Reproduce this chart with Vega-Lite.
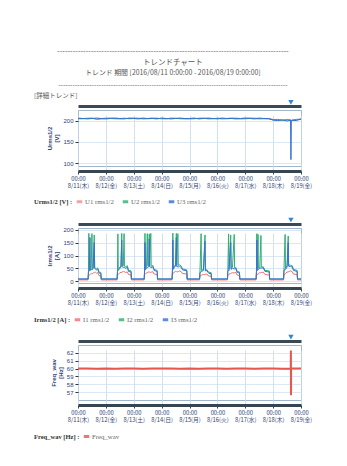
{
  "$schema": "https://vega.github.io/schema/vega-lite/v6.json",
  "background": "white",
  "padding": {"left": 33, "top": 47, "right": 4, "bottom": 4},
  "title": {
    "text": ["-----------------------------------------------------------------------------------------", "トレンドチャート"],
    "subtitle": ["トレンド 期間 [2016/08/11 0:00:00 - 2016/08/19 0:00:00]", "------------------------------------------------------------------------------------------------"],
    "anchor": "middle",
    "font": "Noto Sans CJK JP",
    "fontSize": 7.5,
    "fontWeight": "normal",
    "color": "#555555",
    "lineHeight": 11,
    "subtitleFont": "Noto Sans CJK JP",
    "subtitleFontSize": 6.9,
    "subtitleColor": "#555555",
    "subtitleLineHeight": 12,
    "subtitlePadding": 4,
    "offset": 4
  },
  "bounds": "flush",
  "spacing": 62,
  "resolve": {"scale": {"color": "independent"}, "legend": {"color": "independent"}},
  "datasets": {
    "volt": [
      {"t": "2016-08-11T00:00", "U1": 205, "U2": 204, "U3": 206},
      {"t": "2016-08-11T04:00", "U1": 204, "U2": 205, "U3": 205},
      {"t": "2016-08-11T08:00", "U1": 206, "U2": 205, "U3": 204},
      {"t": "2016-08-11T12:00", "U1": 205, "U2": 206, "U3": 205},
      {"t": "2016-08-11T16:00", "U1": 204, "U2": 203, "U3": 206},
      {"t": "2016-08-11T20:00", "U1": 205, "U2": 204, "U3": 205},
      {"t": "2016-08-12T00:00", "U1": 206, "U2": 205, "U3": 204},
      {"t": "2016-08-12T04:00", "U1": 205, "U2": 206, "U3": 205},
      {"t": "2016-08-12T08:00", "U1": 204, "U2": 205, "U3": 206},
      {"t": "2016-08-12T12:00", "U1": 205, "U2": 204, "U3": 205},
      {"t": "2016-08-12T16:00", "U1": 206, "U2": 205, "U3": 204},
      {"t": "2016-08-12T20:00", "U1": 204, "U2": 205, "U3": 206},
      {"t": "2016-08-13T00:00", "U1": 205, "U2": 206, "U3": 205},
      {"t": "2016-08-13T04:00", "U1": 206, "U2": 205, "U3": 204},
      {"t": "2016-08-13T08:00", "U1": 205, "U2": 204, "U3": 206},
      {"t": "2016-08-13T12:00", "U1": 204, "U2": 205, "U3": 205},
      {"t": "2016-08-13T16:00", "U1": 205, "U2": 206, "U3": 205},
      {"t": "2016-08-13T20:00", "U1": 206, "U2": 205, "U3": 204},
      {"t": "2016-08-14T00:00", "U1": 204, "U2": 205, "U3": 206},
      {"t": "2016-08-14T04:00", "U1": 205, "U2": 204, "U3": 205},
      {"t": "2016-08-14T08:00", "U1": 205, "U2": 206, "U3": 204},
      {"t": "2016-08-14T12:00", "U1": 206, "U2": 205, "U3": 205},
      {"t": "2016-08-14T16:00", "U1": 204, "U2": 205, "U3": 206},
      {"t": "2016-08-14T20:00", "U1": 205, "U2": 204, "U3": 205},
      {"t": "2016-08-15T00:00", "U1": 205, "U2": 204, "U3": 205},
      {"t": "2016-08-15T04:00", "U1": 204, "U2": 205, "U3": 206},
      {"t": "2016-08-15T08:00", "U1": 206, "U2": 205, "U3": 204},
      {"t": "2016-08-15T12:00", "U1": 205, "U2": 206, "U3": 205},
      {"t": "2016-08-15T16:00", "U1": 205, "U2": 204, "U3": 206},
      {"t": "2016-08-15T20:00", "U1": 204, "U2": 205, "U3": 205},
      {"t": "2016-08-16T00:00", "U1": 206, "U2": 205, "U3": 204},
      {"t": "2016-08-16T04:00", "U1": 205, "U2": 204, "U3": 206},
      {"t": "2016-08-16T08:00", "U1": 204, "U2": 205, "U3": 205},
      {"t": "2016-08-16T12:00", "U1": 205, "U2": 206, "U3": 205},
      {"t": "2016-08-16T16:00", "U1": 206, "U2": 205, "U3": 204},
      {"t": "2016-08-16T20:00", "U1": 205, "U2": 204, "U3": 205},
      {"t": "2016-08-17T00:00", "U1": 204, "U2": 205, "U3": 206},
      {"t": "2016-08-17T04:00", "U1": 205, "U2": 206, "U3": 205},
      {"t": "2016-08-17T08:00", "U1": 206, "U2": 205, "U3": 204},
      {"t": "2016-08-17T12:00", "U1": 205, "U2": 204, "U3": 206},
      {"t": "2016-08-17T16:00", "U1": 204, "U2": 205, "U3": 205},
      {"t": "2016-08-17T20:00", "U1": 205, "U2": 204, "U3": 205},
      {"t": "2016-08-18T00:00", "U1": 203, "U2": 202, "U3": 201},
      {"t": "2016-08-18T04:00", "U1": 202, "U2": 203, "U3": 200},
      {"t": "2016-08-18T08:00", "U1": 201, "U2": 200, "U3": 202},
      {"t": "2016-08-18T12:00", "U1": 203, "U2": 202, "U3": 199},
      {"t": "2016-08-18T15:00", "U1": 202, "U2": 201, "U3": 201},
      {"t": "2016-08-18T15:20", "U1": 200, "U2": 199, "U3": 108},
      {"t": "2016-08-18T15:40", "U1": 201, "U2": 200, "U3": 200},
      {"t": "2016-08-18T16:00", "U1": 200, "U2": 201, "U3": 201},
      {"t": "2016-08-18T20:00", "U1": 202, "U2": 203, "U3": 200},
      {"t": "2016-08-19T00:00", "U1": 204, "U2": 203, "U3": 204}
    ],
    "curr": [
      {"t": "2016-08-11T00:00", "I1": 5, "I2": 8, "I3": 9},
      {"t": "2016-08-11T08:40", "I1": 5, "I2": 8, "I3": 9},
      {"t": "2016-08-11T09:00", "I1": 20, "I2": 38, "I3": 34},
      {"t": "2016-08-11T09:20", "I1": 22, "I2": 186, "I3": 40},
      {"t": "2016-08-11T09:40", "I1": 24, "I2": 42, "I3": 40},
      {"t": "2016-08-11T10:20", "I1": 26, "I2": 46, "I3": 170},
      {"t": "2016-08-11T10:40", "I1": 27, "I2": 45, "I3": 42},
      {"t": "2016-08-11T11:20", "I1": 30, "I2": 50, "I3": 46},
      {"t": "2016-08-11T12:00", "I1": 28, "I2": 185, "I3": 44},
      {"t": "2016-08-11T12:20", "I1": 29, "I2": 48, "I3": 45},
      {"t": "2016-08-11T13:00", "I1": 32, "I2": 52, "I3": 48},
      {"t": "2016-08-11T14:00", "I1": 34, "I2": 180, "I3": 150},
      {"t": "2016-08-11T14:20", "I1": 33, "I2": 54, "I3": 50},
      {"t": "2016-08-11T15:00", "I1": 35, "I2": 50, "I3": 47},
      {"t": "2016-08-11T16:00", "I1": 31, "I2": 48, "I3": 44},
      {"t": "2016-08-11T17:00", "I1": 33, "I2": 52, "I3": 47},
      {"t": "2016-08-11T18:00", "I1": 22, "I2": 36, "I3": 32},
      {"t": "2016-08-11T19:40", "I1": 20, "I2": 34, "I3": 30},
      {"t": "2016-08-11T20:00", "I1": 5, "I2": 8, "I3": 9},
      {"t": "2016-08-12T09:40", "I1": 5, "I2": 8, "I3": 9},
      {"t": "2016-08-12T10:00", "I1": 24, "I2": 42, "I3": 38},
      {"t": "2016-08-12T10:20", "I1": 25, "I2": 184, "I3": 44},
      {"t": "2016-08-12T10:40", "I1": 27, "I2": 46, "I3": 42},
      {"t": "2016-08-12T12:00", "I1": 32, "I2": 55, "I3": 50},
      {"t": "2016-08-12T13:00", "I1": 35, "I2": 58, "I3": 54},
      {"t": "2016-08-12T13:40", "I1": 34, "I2": 186, "I3": 160},
      {"t": "2016-08-12T14:00", "I1": 36, "I2": 62, "I3": 56},
      {"t": "2016-08-12T15:00", "I1": 38, "I2": 60, "I3": 55},
      {"t": "2016-08-12T15:40", "I1": 36, "I2": 185, "I3": 52},
      {"t": "2016-08-12T16:00", "I1": 37, "I2": 58, "I3": 53},
      {"t": "2016-08-12T17:00", "I1": 34, "I2": 56, "I3": 50},
      {"t": "2016-08-12T18:30", "I1": 36, "I2": 60, "I3": 54},
      {"t": "2016-08-12T19:30", "I1": 26, "I2": 42, "I3": 38},
      {"t": "2016-08-12T21:40", "I1": 24, "I2": 40, "I3": 36},
      {"t": "2016-08-12T22:00", "I1": 5, "I2": 8, "I3": 9},
      {"t": "2016-08-13T09:00", "I1": 5, "I2": 8, "I3": 9},
      {"t": "2016-08-13T09:20", "I1": 26, "I2": 44, "I3": 40},
      {"t": "2016-08-13T09:40", "I1": 27, "I2": 186, "I3": 150},
      {"t": "2016-08-13T10:00", "I1": 28, "I2": 48, "I3": 44},
      {"t": "2016-08-13T11:00", "I1": 33, "I2": 56, "I3": 52},
      {"t": "2016-08-13T11:40", "I1": 32, "I2": 185, "I3": 52},
      {"t": "2016-08-13T12:00", "I1": 35, "I2": 60, "I3": 55},
      {"t": "2016-08-13T13:00", "I1": 36, "I2": 62, "I3": 57},
      {"t": "2016-08-13T13:20", "I1": 35, "I2": 184, "I3": 165},
      {"t": "2016-08-13T13:40", "I1": 36, "I2": 60, "I3": 56},
      {"t": "2016-08-13T14:40", "I1": 34, "I2": 186, "I3": 54},
      {"t": "2016-08-13T15:00", "I1": 35, "I2": 58, "I3": 53},
      {"t": "2016-08-13T16:30", "I1": 37, "I2": 61, "I3": 56},
      {"t": "2016-08-13T17:30", "I1": 28, "I2": 46, "I3": 42},
      {"t": "2016-08-13T20:10", "I1": 26, "I2": 42, "I3": 38},
      {"t": "2016-08-13T20:30", "I1": 5, "I2": 8, "I3": 9},
      {"t": "2016-08-14T09:00", "I1": 5, "I2": 8, "I3": 9},
      {"t": "2016-08-14T09:20", "I1": 28, "I2": 46, "I3": 42},
      {"t": "2016-08-14T09:40", "I1": 27, "I2": 187, "I3": 160},
      {"t": "2016-08-14T10:00", "I1": 30, "I2": 50, "I3": 46},
      {"t": "2016-08-14T11:00", "I1": 36, "I2": 60, "I3": 55},
      {"t": "2016-08-14T12:00", "I1": 38, "I2": 64, "I3": 58},
      {"t": "2016-08-14T12:40", "I1": 37, "I2": 186, "I3": 170},
      {"t": "2016-08-14T13:00", "I1": 38, "I2": 62, "I3": 57},
      {"t": "2016-08-14T14:00", "I1": 36, "I2": 185, "I3": 56},
      {"t": "2016-08-14T14:20", "I1": 37, "I2": 60, "I3": 55},
      {"t": "2016-08-14T15:30", "I1": 40, "I2": 64, "I3": 58},
      {"t": "2016-08-14T17:00", "I1": 36, "I2": 58, "I3": 53},
      {"t": "2016-08-14T18:00", "I1": 30, "I2": 48, "I3": 44},
      {"t": "2016-08-14T21:40", "I1": 28, "I2": 44, "I3": 40},
      {"t": "2016-08-14T22:00", "I1": 5, "I2": 8, "I3": 9},
      {"t": "2016-08-15T08:40", "I1": 5, "I2": 8, "I3": 9},
      {"t": "2016-08-15T09:00", "I1": 20, "I2": 36, "I3": 32},
      {"t": "2016-08-15T10:00", "I1": 22, "I2": 185, "I3": 38},
      {"t": "2016-08-15T10:20", "I1": 24, "I2": 42, "I3": 38},
      {"t": "2016-08-15T12:00", "I1": 26, "I2": 46, "I3": 42},
      {"t": "2016-08-15T13:20", "I1": 25, "I2": 180, "I3": 155},
      {"t": "2016-08-15T13:40", "I1": 27, "I2": 44, "I3": 40},
      {"t": "2016-08-15T15:00", "I1": 28, "I2": 45, "I3": 41},
      {"t": "2016-08-15T16:30", "I1": 20, "I2": 35, "I3": 31},
      {"t": "2016-08-15T18:40", "I1": 19, "I2": 33, "I3": 29},
      {"t": "2016-08-15T19:00", "I1": 5, "I2": 8, "I3": 9},
      {"t": "2016-08-16T08:40", "I1": 5, "I2": 8, "I3": 9},
      {"t": "2016-08-16T09:00", "I1": 24, "I2": 42, "I3": 38},
      {"t": "2016-08-16T09:40", "I1": 25, "I2": 184, "I3": 44},
      {"t": "2016-08-16T10:00", "I1": 27, "I2": 46, "I3": 42},
      {"t": "2016-08-16T11:30", "I1": 30, "I2": 180, "I3": 150},
      {"t": "2016-08-16T11:50", "I1": 31, "I2": 50, "I3": 46},
      {"t": "2016-08-16T13:00", "I1": 33, "I2": 54, "I3": 50},
      {"t": "2016-08-16T14:30", "I1": 32, "I2": 182, "I3": 48},
      {"t": "2016-08-16T14:50", "I1": 33, "I2": 52, "I3": 48},
      {"t": "2016-08-16T16:00", "I1": 34, "I2": 53, "I3": 49},
      {"t": "2016-08-16T17:00", "I1": 24, "I2": 38, "I3": 34},
      {"t": "2016-08-16T19:00", "I1": 22, "I2": 36, "I3": 32},
      {"t": "2016-08-16T19:20", "I1": 5, "I2": 8, "I3": 9},
      {"t": "2016-08-17T09:20", "I1": 5, "I2": 8, "I3": 9},
      {"t": "2016-08-17T09:40", "I1": 24, "I2": 42, "I3": 38},
      {"t": "2016-08-17T10:00", "I1": 25, "I2": 185, "I3": 160},
      {"t": "2016-08-17T10:20", "I1": 27, "I2": 46, "I3": 42},
      {"t": "2016-08-17T11:00", "I1": 26, "I2": 182, "I3": 44},
      {"t": "2016-08-17T11:20", "I1": 30, "I2": 50, "I3": 46},
      {"t": "2016-08-17T12:30", "I1": 33, "I2": 54, "I3": 50},
      {"t": "2016-08-17T13:30", "I1": 32, "I2": 178, "I3": 52},
      {"t": "2016-08-17T13:50", "I1": 34, "I2": 55, "I3": 51},
      {"t": "2016-08-17T15:30", "I1": 35, "I2": 56, "I3": 52},
      {"t": "2016-08-17T17:00", "I1": 26, "I2": 42, "I3": 38},
      {"t": "2016-08-17T20:40", "I1": 24, "I2": 40, "I3": 36},
      {"t": "2016-08-17T21:00", "I1": 5, "I2": 8, "I3": 9},
      {"t": "2016-08-18T09:00", "I1": 5, "I2": 8, "I3": 9},
      {"t": "2016-08-18T09:20", "I1": 26, "I2": 44, "I3": 40},
      {"t": "2016-08-18T10:20", "I1": 27, "I2": 182, "I3": 48},
      {"t": "2016-08-18T10:40", "I1": 30, "I2": 50, "I3": 46},
      {"t": "2016-08-18T12:00", "I1": 36, "I2": 60, "I3": 55},
      {"t": "2016-08-18T13:00", "I1": 35, "I2": 176, "I3": 150},
      {"t": "2016-08-18T13:20", "I1": 38, "I2": 64, "I3": 58},
      {"t": "2016-08-18T15:00", "I1": 40, "I2": 62, "I3": 57},
      {"t": "2016-08-18T16:30", "I1": 37, "I2": 60, "I3": 55},
      {"t": "2016-08-18T17:30", "I1": 28, "I2": 46, "I3": 42},
      {"t": "2016-08-18T20:40", "I1": 26, "I2": 42, "I3": 38},
      {"t": "2016-08-18T21:00", "I1": 5, "I2": 8, "I3": 9},
      {"t": "2016-08-19T00:00", "I1": 5, "I2": 8, "I3": 9}
    ],
    "freq": [
      {"t": "2016-08-11T00:00", "Freq_wav": 60.0},
      {"t": "2016-08-11T08:00", "Freq_wav": 60.02},
      {"t": "2016-08-11T16:00", "Freq_wav": 59.98},
      {"t": "2016-08-12T00:00", "Freq_wav": 60.01},
      {"t": "2016-08-12T08:00", "Freq_wav": 59.99},
      {"t": "2016-08-12T16:00", "Freq_wav": 60.02},
      {"t": "2016-08-13T00:00", "Freq_wav": 60.0},
      {"t": "2016-08-13T08:00", "Freq_wav": 59.98},
      {"t": "2016-08-13T16:00", "Freq_wav": 60.01},
      {"t": "2016-08-14T00:00", "Freq_wav": 60.0},
      {"t": "2016-08-14T08:00", "Freq_wav": 60.02},
      {"t": "2016-08-14T16:00", "Freq_wav": 59.99},
      {"t": "2016-08-15T00:00", "Freq_wav": 60.01},
      {"t": "2016-08-15T08:00", "Freq_wav": 59.98},
      {"t": "2016-08-15T16:00", "Freq_wav": 60.0},
      {"t": "2016-08-16T00:00", "Freq_wav": 60.02},
      {"t": "2016-08-16T08:00", "Freq_wav": 59.99},
      {"t": "2016-08-16T16:00", "Freq_wav": 60.0},
      {"t": "2016-08-17T00:00", "Freq_wav": 60.01},
      {"t": "2016-08-17T08:00", "Freq_wav": 59.98},
      {"t": "2016-08-17T16:00", "Freq_wav": 60.02},
      {"t": "2016-08-18T00:00", "Freq_wav": 60.0},
      {"t": "2016-08-18T08:00", "Freq_wav": 59.99},
      {"t": "2016-08-18T15:10", "Freq_wav": 60.01},
      {"t": "2016-08-18T15:18", "Freq_wav": 62.3},
      {"t": "2016-08-18T15:22", "Freq_wav": 56.6},
      {"t": "2016-08-18T15:30", "Freq_wav": 60.0},
      {"t": "2016-08-18T20:00", "Freq_wav": 60.01},
      {"t": "2016-08-19T00:00", "Freq_wav": 60.0}
    ],
    "event": [
      {"t": "2016-08-18T15:20", "u": 243, "i": 238, "f": 64.0}
    ]
  },
  "vconcat": [
    {
      "width": 223,
      "height": 56,
      "title": {"text": "[詳細トレンド]", "anchor": "start", "dx": -44, "font": "Noto Sans CJK JP", "fontSize": 6.5, "fontWeight": "normal", "color": "#555555", "offset": 1, "frame": "group"},
      "resolve": {"axis": {"x": "independent", "y": "independent"}},
      "layer": [
        {
          "data": {"name": "volt"},
          "transform": [{"fold": ["U1", "U2", "U3"], "as": ["s", "v"]}],
          "mark": {"type": "line", "strokeWidth": 1, "clip": true},
          "encoding": {
            "x": {"field": "t", "type": "temporal",
              "scale": {"domain": [{"year": 2016, "month": 8, "date": 11}, {"year": 2016, "month": 8, "date": 19}]},
              "axis": {"orient": "bottom", "title": null,
                "values": [{"year": 2016, "month": 8, "date": 11}, {"year": 2016, "month": 8, "date": 12}, {"year": 2016, "month": 8, "date": 13}, {"year": 2016, "month": 8, "date": 14}, {"year": 2016, "month": 8, "date": 15}, {"year": 2016, "month": 8, "date": 16}, {"year": 2016, "month": 8, "date": 17}, {"year": 2016, "month": 8, "date": 18}, {"year": 2016, "month": 8, "date": 19}],
                "labelExpr": "[timeFormat(datum.value, '%H:%M'), timeFormat(datum.value, '%-m/%d') + '(' + ['日','月','火','水','木','金','土'][day(datum.value)] + ')']"}},
            "y": {"field": "v", "type": "quantitative",
              "scale": {"domain": [93, 225], "nice": false, "zero": false},
              "axis": {"orient": "left", "values": [100, 150, 200], "title": ["Urms1/2", "[V]"]}},
            "color": {"field": "s", "type": "nominal",
              "scale": {"domain": ["U1", "U2", "U3"], "range": ["#ef8c8c", "#2fae72", "#2f6fd6"]},
              "legend": {"orient": "none", "legendX": -44, "legendY": 87, "title": "Urms1/2 [V] :", "labelExpr": "datum.label + ' rms1/2'"}}
          }
        },
        {
          "data": {"name": "event"},
          "mark": {"type": "point", "shape": "triangle-down", "filled": true, "size": 28, "color": "#2a86d6", "opacity": 1},
          "encoding": {
            "x": {"field": "t", "type": "temporal", "axis": {"orient": "top", "title": null}},
            "y": {"field": "u", "type": "quantitative", "axis": null}
          }
        }
      ]
    },
    {
      "width": 223,
      "height": 55,
      "resolve": {"axis": {"x": "independent", "y": "independent"}},
      "layer": [
        {
          "data": {"name": "curr"},
          "transform": [{"fold": ["I1", "I2", "I3"], "as": ["s", "v"]}],
          "mark": {"type": "line", "strokeWidth": 1, "clip": true},
          "encoding": {
            "x": {"field": "t", "type": "temporal",
              "scale": {"domain": [{"year": 2016, "month": 8, "date": 11}, {"year": 2016, "month": 8, "date": 19}]},
              "axis": {"orient": "bottom", "title": null,
                "values": [{"year": 2016, "month": 8, "date": 11}, {"year": 2016, "month": 8, "date": 12}, {"year": 2016, "month": 8, "date": 13}, {"year": 2016, "month": 8, "date": 14}, {"year": 2016, "month": 8, "date": 15}, {"year": 2016, "month": 8, "date": 16}, {"year": 2016, "month": 8, "date": 17}, {"year": 2016, "month": 8, "date": 18}, {"year": 2016, "month": 8, "date": 19}],
                "labelExpr": "[timeFormat(datum.value, '%H:%M'), timeFormat(datum.value, '%-m/%d') + '(' + ['日','月','火','水','木','金','土'][day(datum.value)] + ')']"}},
            "y": {"field": "v", "type": "quantitative",
              "scale": {"domain": [-7, 207], "nice": false, "zero": false},
              "axis": {"orient": "left", "values": [0, 50, 100, 150, 200], "title": ["Irms1/2", "[A]"]}},
            "color": {"field": "s", "type": "nominal",
              "scale": {"domain": ["I1", "I2", "I3"], "range": ["#ee6f6f", "#2fae72", "#3a6fd8"]},
              "legend": {"orient": "none", "legendX": -44, "legendY": 87, "title": "Irms1/2 [A] :", "labelExpr": "datum.label + ' rms1/2'"}}
          }
        },
        {
          "data": {"name": "event"},
          "mark": {"type": "point", "shape": "triangle-down", "filled": true, "size": 28, "color": "#2a86d6", "opacity": 1},
          "encoding": {
            "x": {"field": "t", "type": "temporal", "axis": {"orient": "top", "title": null}},
            "y": {"field": "i", "type": "quantitative", "axis": null}
          }
        }
      ]
    },
    {
      "width": 223,
      "height": 55,
      "resolve": {"axis": {"x": "independent", "y": "independent"}},
      "layer": [
        {
          "data": {"name": "freq"},
          "transform": [{"fold": ["Freq_wav"], "as": ["s", "v"]}],
          "mark": {"type": "line", "strokeWidth": 2, "clip": true},
          "encoding": {
            "x": {"field": "t", "type": "temporal",
              "scale": {"domain": [{"year": 2016, "month": 8, "date": 11}, {"year": 2016, "month": 8, "date": 19}]},
              "axis": {"orient": "bottom", "title": null,
                "values": [{"year": 2016, "month": 8, "date": 11}, {"year": 2016, "month": 8, "date": 12}, {"year": 2016, "month": 8, "date": 13}, {"year": 2016, "month": 8, "date": 14}, {"year": 2016, "month": 8, "date": 15}, {"year": 2016, "month": 8, "date": 16}, {"year": 2016, "month": 8, "date": 17}, {"year": 2016, "month": 8, "date": 18}, {"year": 2016, "month": 8, "date": 19}],
                "labelExpr": "[timeFormat(datum.value, '%H:%M'), timeFormat(datum.value, '%-m/%d') + '(' + ['日','月','火','水','木','金','土'][day(datum.value)] + ')']"}},
            "y": {"field": "v", "type": "quantitative",
              "scale": {"domain": [56, 63], "nice": false, "zero": false},
              "axis": {"orient": "left", "values": [57, 58, 59, 60, 61, 62], "title": ["Freq_wav", "[Hz]"]}},
            "color": {"field": "s", "type": "nominal",
              "scale": {"domain": ["Freq_wav"], "range": ["#e8574f"]},
              "legend": {"orient": "none", "legendX": -44, "legendY": 87, "title": "Freq_wav [Hz] :"}}
          }
        },
        {
          "data": {"name": "event"},
          "mark": {"type": "point", "shape": "triangle-down", "filled": true, "size": 28, "color": "#2a86d6", "opacity": 1},
          "encoding": {
            "x": {"field": "t", "type": "temporal", "axis": {"orient": "top", "title": null}},
            "y": {"field": "f", "type": "quantitative", "axis": null}
          }
        }
      ]
    }
  ],
  "config": {
    "font": "Liberation Sans",
    "view": {"stroke": "#9fb6cc", "strokeWidth": 1},
    "axisBottom": {
      "offset": 5, "domainColor": "#36454f", "domainWidth": 3, "tickColor": "#36454f", "tickSize": 3, "tickWidth": 1,
      "labelFont": "Noto Sans CJK JP", "labelFontSize": 5.8, "labelColor": "#2e3f73", "labelLineHeight": 7, "labelPadding": 1,
      "labelFlush": false, "labelOverlap": false, "grid": true, "gridColor": "#c6d9ec", "gridWidth": 0.8
    },
    "axisTop": {
      "offset": 4, "domainColor": "#3a4a55", "domainWidth": 3, "ticks": false, "labels": false, "grid": false
    },
    "axisLeft": {
      "domain": false, "tickColor": "#333333", "tickSize": 3, "labelFont": "Liberation Sans", "labelFontSize": 6, "labelColor": "#2e3f73",
      "labelPadding": 2, "titleFont": "Liberation Sans", "titleFontSize": 6, "titleFontWeight": "bold", "titleColor": "#2e3f73", "titlePadding": 3,
      "titleLineHeight": 7, "grid": true, "gridColor": "#d2e1ef", "gridWidth": 0.8
    },
    "legend": {
      "direction": "horizontal", "titleOrient": "left", "titleFont": "Liberation Serif", "titleFontSize": 6.5, "titleFontWeight": "bold", "titleColor": "#333333",
      "labelFont": "Liberation Serif", "labelFontSize": 6.8, "labelColor": "#666666", "symbolType": "stroke", "symbolStrokeWidth": 3, "symbolSize": 30,
      "columnPadding": 2, "labelOffset": 1, "titlePadding": 2, "symbolOpacity": 0.8
    }
  }
}
